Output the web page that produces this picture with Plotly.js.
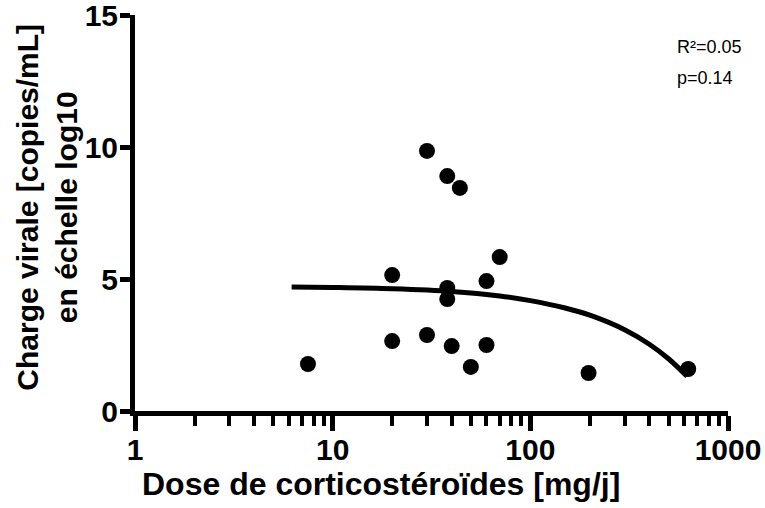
<!DOCTYPE html>
<html>
<head>
<meta charset="utf-8">
<script src="https://cdn.plot.ly/plotly-3.0.1.min.js"></script>
<style>html,body{margin:0;padding:0;background:#fff;}#chart{width:765px;height:508px;}</style>
</head>
<body>
<div id="chart"></div>
<script>
// Data
const dose = [7.5, 20, 20, 30, 30, 38, 38, 38, 40, 44, 50, 60, 60, 70, 197, 629];
const viralLoad = [1.78, 5.15, 2.65, 9.85, 2.88, 8.90, 4.66, 4.24, 2.46, 8.45, 1.67, 4.92, 2.50, 5.83, 1.44, 1.59];

// Fitted curve, points
const fitDose = [6.2, 10, 20, 40, 70, 100, 150, 200, 300, 400, 500, 620];
const fitLoad = [4.70, 4.68, 4.63, 4.53, 4.36, 4.18, 3.90, 3.63, 3.08, 2.53, 1.98, 1.32];

const xTickVals = [1, 10, 100, 1000];
const xTickText = ['1', '10', '100', '1000'];
const xMinorTickVals = [2, 3, 4, 5, 6, 7, 8, 9, 20, 30, 40, 50, 60, 70, 80, 90, 200, 300, 400, 500, 600, 700, 800, 900];
const yTickVals = [0, 5, 10, 15];
const yTickText = ['0', '5', '10', '15'];

const statsLine1 = 'R²=0.05';
const statsLine2 = 'p=0.14';
const xTitle = 'Dose de corticostéroïdes [mg/j]';
const yTitle = 'Charge virale [copies/mL]<br>en échelle log10';

const boldFont = 'Liberation Sans, Arial, sans-serif';
const b = s => '<b>' + s + '</b>';

const traces = [
  {
    x: fitDose, y: fitLoad, mode: 'lines', type: 'scatter',
    line: {color: '#000', width: 5, shape: 'spline'}, hoverinfo: 'skip'
  },
  {
    x: dose, y: viralLoad, mode: 'markers', type: 'scatter',
    marker: {color: '#000', size: 16}
  }
];

const layout = {
  width: 765, height: 508,
  margin: {l: 135, r: 37, t: 15, b: 97},
  paper_bgcolor: '#fff', plot_bgcolor: '#fff',
  showlegend: false,
  font: {family: boldFont, color: '#000'},
  xaxis: {
    type: 'log', range: [0, 3],
    tickmode: 'array', tickvals: xTickVals, ticktext: xTickText.map(b),
    ticks: 'outside', ticklen: 15, tickwidth: 5, tickcolor: '#000',
    minor: {tickmode: 'array', tickvals: xMinorTickVals, ticks: 'outside', ticklen: 10, tickwidth: 4, tickcolor: '#000', showgrid: false},
    showline: true, linewidth: 5, linecolor: '#000',
    showgrid: false, zeroline: false,
    ticklabelstandoff: -7, ticklabeloverflow: 'allow',
    tickfont: {family: boldFont, size: 30, color: '#000'}
  },
  yaxis: {
    range: [0, 15],
    tickmode: 'array', tickvals: yTickVals, ticktext: yTickText.map(b),
    ticks: 'outside', ticklen: 10, tickwidth: 5, tickcolor: '#000',
    showline: true, linewidth: 5, linecolor: '#000',
    showgrid: false, zeroline: false,
    ticklabelstandoff: -4, ticklabeloverflow: 'allow',
    tickfont: {family: boldFont, size: 30, color: '#000'}
  },
  annotations: [
    {text: b(xTitle), xref: 'paper', yref: 'paper', x: 0.415, y: -0.185,
     xanchor: 'center', yanchor: 'middle', showarrow: false,
     font: {family: boldFont, size: 32, color: '#000'}},
    {text: b(yTitle), xref: 'paper', yref: 'paper', x: -0.148, y: 0.514, textangle: -90,
     xanchor: 'center', yanchor: 'middle', showarrow: false,
     font: {family: boldFont, size: 30, color: '#000'}},
    {text: statsLine1, xref: 'paper', yref: 'paper', x: 0.91, y: 0.918,
     xanchor: 'left', yanchor: 'middle', showarrow: false,
     font: {family: 'Liberation Sans, Arial, sans-serif', size: 18, color: '#000'}},
    {text: statsLine2, xref: 'paper', yref: 'paper', x: 0.91, y: 0.84,
     xanchor: 'left', yanchor: 'middle', showarrow: false,
     font: {family: 'Liberation Sans, Arial, sans-serif', size: 18, color: '#000'}}
  ]
};

Plotly.newPlot('chart', traces, layout, {displayModeBar: false, staticPlot: true});
</script>
</body>
</html>
